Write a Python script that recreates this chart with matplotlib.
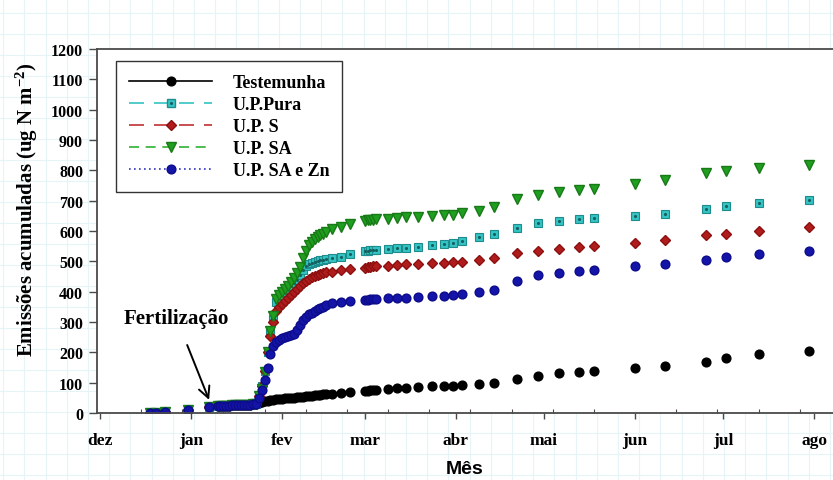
import numpy as np
import matplotlib
matplotlib.use("Agg")
import matplotlib.pyplot as plt
from matplotlib.lines import Line2D
from matplotlib.legend_handler import HandlerTuple

# Sampling days, counted from 1 December
dia = [17, 19, 22, 30, 37,
       40, 41, 42, 43, 44, 45, 46, 47, 48, 49, 50, 51, 52, 53,
       54, 55, 56, 57, 58, 59, 60, 61, 62, 63, 64, 65, 66, 67, 68, 69, 70, 71, 72, 73, 74, 75,
       76, 77, 79, 82, 85, 90, 91, 92, 93, 94,
       98, 101, 104, 108, 113, 117, 120, 123, 129, 134, 142, 149, 156, 163, 168,
       182, 192, 206, 213, 224, 241]

# Cumulative emissions before fertilization (identical for all treatments)
antes = [0, 1, 4, 10, 20, 22, 23, 23, 24, 24, 25, 25, 26, 26, 27, 27, 28, 29, 30]

testemunha = antes + [33, 36, 38, 40, 42, 43, 45, 46, 47, 48, 49, 50, 51, 52, 53, 54, 55, 56, 57, 58, 59, 60,
                      61, 62, 64, 67, 69, 73, 74, 75, 76, 77,
                      80, 82, 84, 86, 88, 89, 89, 92, 96, 99, 112, 122, 132, 135, 139, 148, 155, 168, 181, 195, 204]
up_pura = antes + [55, 90, 140, 200, 265, 310, 365, 380, 390, 400, 410, 420, 430, 440, 455, 470, 485, 491, 496, 499, 501, 503,
                   505, 507, 510, 514, 525, 534, 535, 536, 537, 538,
                   541, 543, 545, 548, 553, 556, 560, 567, 580, 590, 610, 626, 633, 640, 643, 650, 656, 673, 682, 692, 702]
up_s = antes + [55, 90, 140, 200, 255, 300, 336, 350, 360, 370, 380, 390, 398, 408, 419, 428, 436, 443, 448, 452, 456, 459,
                462, 464, 466, 471, 474, 479, 481, 482, 483, 484,
                486, 488, 490, 492, 494, 496, 498, 499, 504, 511, 527, 535, 541, 547, 551, 560, 570, 587, 591, 600, 613]
up_sa = antes + [55, 80, 135, 200, 270, 320, 376, 388, 399, 409, 419, 432, 445, 460, 480, 510, 535, 555, 564, 572, 580, 586,
                 591, 596, 605, 614, 623, 633, 635, 636, 637, 638,
                 640, 642, 645, 647, 650, 652, 653, 659, 666, 679, 705, 719, 728, 735, 739, 755, 768, 791, 798, 808, 818]
up_sa_zn = antes + [50, 75, 110, 150, 195, 220, 234, 242, 246, 250, 253, 256, 262, 272, 290, 305, 318, 325, 331, 336, 342, 347,
                    351, 355, 361, 366, 369, 373, 374, 375, 376, 376,
                    378, 379, 380, 382, 385, 387, 389, 392, 398, 407, 435, 455, 462, 468, 472, 485, 491, 504, 514, 524, 534]

meses = ["dez", "jan", "fev", "mar", "abr", "mai", "jun", "jul", "ago"]
inicio_mes = [0, 31, 62, 90, 121, 151, 182, 212, 243]
dia_fertilizacao = 38

SERIF = ["Liberation Serif", "DejaVu Serif"]
SANS = ["Liberation Sans", "DejaVu Sans"]

plt.rcParams["mathtext.fontset"] = "custom"
plt.rcParams["mathtext.rm"] = "Liberation Serif:bold"
plt.rcParams["mathtext.bf"] = "Liberation Serif:bold"
plt.rcParams["mathtext.it"] = "Liberation Serif:bold:italic"
plt.rcParams["axes.unicode_minus"] = False

W, H = 833, 481
fig = plt.figure(figsize=(W / 100, H / 100), dpi=100)
fig.patch.set_facecolor("white")

# faint squared-paper background
for xp in np.arange(3.2, W, 21.2):
    fig.add_artist(Line2D([xp / W, xp / W], [0, 1], transform=fig.transFigure,
                          color="#e6f4f7", lw=0.8, zorder=0))
for yp in np.arange(14, H, 21.0):
    fig.add_artist(Line2D([0, 1], [1 - yp / H, 1 - yp / H], transform=fig.transFigure,
                          color="#e6f4f7", lw=0.8, zorder=0))

ax = fig.add_axes([97 / W, 1 - 414 / H, 1 - 97 / W, (414 - 50) / H])
ax.set_facecolor("white")

x = np.array(dia)
ms = 6.3
ax.plot(x, testemunha, ls="none", marker="o", ms=ms, color="black", mec="black")
ax.plot(x, up_pura, ls="none", marker="s", ms=5.6, mfc="#35c4c4", mec="#1e8c8c", mew=0.8)
ax.plot(x, up_pura, ls="none", marker=".", ms=2.5, color="#145f5f")
ax.plot(x, up_s, ls="none", marker="D", ms=5.4, mfc="#b01c1c", mec="#8c1010")
ax.plot(x, up_sa, ls="none", marker="v", ms=6.8, mfc="#1f9e1f", mec="#177a17")
ax.plot(x, up_sa_zn, ls="none", marker="o", ms=ms, mfc="#1414a8", mec="#0c0c8c")

ax.set_xlim(-1, 249.3)
ax.set_ylim(0, 1200)
ax.set_yticks(np.arange(0, 1201, 100))
ax.set_xticks(inicio_mes)
ax.set_xticklabels(meses)
ax.set_xticks(np.arange(0, 250, 14), minor=True)

for s in ["left", "bottom", "top"]:
    ax.spines[s].set_color("#4a4a4a")
    ax.spines[s].set_linewidth(1.3)
ax.spines["right"].set_visible(False)

ax.tick_params(axis="y", direction="out", length=6, width=1, color="#4a4a4a", pad=4)
ax.tick_params(axis="x", which="major", direction="out", length=4, width=1, color="#4a4a4a", pad=10)
ax.tick_params(axis="x", which="minor", direction="in", length=3, width=0.8, color="#4a4a4a")
ax.tick_params(axis="y", which="minor", left=False)

for lab in ax.get_yticklabels():
    lab.set_fontfamily(SERIF)
    lab.set_fontweight("bold")
    lab.set_fontsize(11.5)
for lab in ax.get_xticklabels():
    lab.set_fontfamily(SERIF)
    lab.set_fontweight("bold")
    lab.set_fontsize(12.5)

ax.set_ylabel("Emissões acumuladas (ug N m$^{-2}$)", fontfamily=SERIF,
              fontweight="bold", fontsize=15, labelpad=8, y=0.56)
ax.set_xlabel("Mês", fontfamily=SANS, fontweight="bold", fontsize=14, labelpad=8)

ax.annotate("Fertilização", xy=(dia_fertilizacao, 22), xytext=(26, 313),
            textcoords="data", ha="center", va="center",
            fontfamily=SERIF, fontweight="bold", fontsize=15,
            arrowprops=dict(arrowstyle="->", color="black", lw=1.4,
                            shrinkA=11, shrinkB=5, mutation_scale=20))

handles = [
    Line2D([], [], color="black", lw=1.2, marker="o", ms=ms, mfc="black", mec="black"),
    (Line2D([], [], color="#35c4c4", lw=1.2, dashes=(9, 6), marker="s", ms=5.6,
            mfc="#35c4c4", mec="#1e8c8c"),
     Line2D([], [], ls="none", marker=".", ms=2.5, color="#145f5f")),
    Line2D([], [], color="#c03030", lw=1.2, dashes=(9, 6), marker="D", ms=5.4,
           mfc="#b01c1c", mec="#8c1010"),
    Line2D([], [], color="#30b030", lw=1.2, dashes=(6, 4), marker="v", ms=6.8,
           mfc="#1f9e1f", mec="#177a17"),
    Line2D([], [], color="#3030c0", lw=1.2, dashes=(1, 2), marker="o", ms=ms,
           mfc="#1414a8", mec="#0c0c8c"),
]
labels = ["Testemunha", "U.P.Pura", "U.P. S", "U.P. SA", "U.P. SA e Zn"]
leg = ax.legend(handles, labels, loc="upper left", bbox_to_anchor=(116 / W, 1 - 62 / H),
                bbox_transform=fig.transFigure, borderaxespad=0, numpoints=1,
                handler_map={tuple: HandlerTuple(ndivide=1, pad=0)},
                prop={"family": SERIF, "weight": "bold", "size": 13},
                handlelength=4.6, handletextpad=1.15, labelspacing=0.28,
                borderpad=0.72, fancybox=False, framealpha=1, edgecolor="#333333")
leg.get_frame().set_linewidth(1.0)

fig.savefig("out.png", dpi=100, facecolor="white")
